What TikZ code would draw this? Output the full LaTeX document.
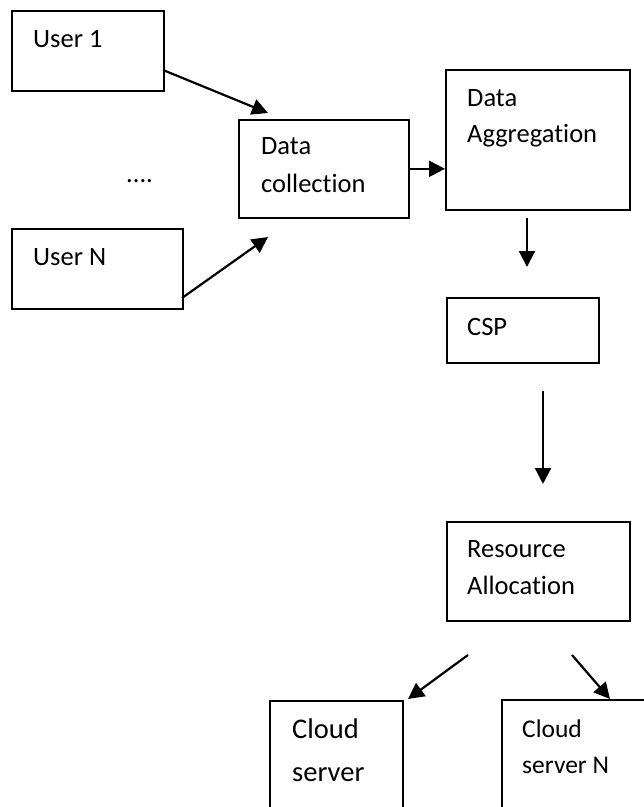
\documentclass[tikz,border=0pt]{standalone}
\usepackage{fontspec}
\setmainfont[RawFeature={-liga}]{Carlito}
\usetikzlibrary{arrows.meta}
\tikzset{
  box/.style={draw, line width=1.6pt, inner sep=0pt, anchor=north west},
  lbl/.style={inner sep=0pt, anchor=base west, font=\fontsize{26.5}{32}\selectfont},
  flow/.style={line width=2.2pt, -{Triangle[length=16pt,width=16pt]}}
}
\begin{document}
\begin{tikzpicture}[x=1pt,y=-1pt]
  \clip (0,0) rectangle (644,807);
  \fill[white] (0,0) rectangle (644,807);

  % boxes
  \node[box, minimum width=152pt, minimum height=80pt]  (u1)  at (11,10)  {};
  \node[box, minimum width=171pt, minimum height=80pt]  (un)  at (11,228) {};
  \node[box, minimum width=170pt, minimum height=98pt]  (dc)  at (238,119) {};
  \node[box, minimum width=184pt, minimum height=140pt] (da)  at (445,69) {};
  \node[box, minimum width=152pt, minimum height=65pt]  (csp) at (446,297) {};
  \node[box, minimum width=183pt, minimum height=99pt]  (ra)  at (446,521) {};
  \node[box, minimum width=133pt, minimum height=140pt] (cs)  at (269,700) {};
  \node[box, minimum width=170pt, minimum height=140pt] (csn) at (501,699) {};

  % labels
  \node[lbl] (u1-t)  at (33,47)  {User 1};
  \node[lbl] (un-t)  at (33,265) {User N};
  \node[lbl] (dots)  at (126,182) {....};
  \node[lbl] (dc-t1) at (261,154) {Data};
  \node[lbl] (dc-t2) at (261,192) {collection};
  \node[lbl] (da-t1) at (467,106) {Data};
  \node[lbl] (da-t2) at (467,142) {Aggregation};
  \node[lbl] (csp-t) at (467,335) {CSP};
  \node[lbl] (ra-t1) at (467,557) {Resource};
  \node[lbl] (ra-t2) at (467,594) {Allocation};
  \node[lbl, font=\fontsize{28.5}{34}\selectfont] (cs-t1) at (292,738) {Cloud};
  \node[lbl, font=\fontsize{28.5}{34}\selectfont] (cs-t2) at (292,781) {server};
  \node[lbl, font=\fontsize{25.5}{30}\selectfont] (csn-t1) at (522,737) {Cloud};
  \node[lbl, font=\fontsize{25.5}{30}\selectfont] (csn-t2) at (522,773) {server N};

  % free ends of connectors
  \coordinate (a1s) at (163,70);
  \coordinate (a1e) at (268,113);
  \coordinate (a2s) at (182,298);
  \coordinate (a2e) at (268,237);
  \coordinate (a4s) at (527,218);
  \coordinate (a4e) at (527,267);
  \coordinate (a5s) at (543,391);
  \coordinate (a5e) at (543,484);
  \coordinate (a6s) at (468,655);
  \coordinate (a6e) at (408,699);
  \coordinate (a7s) at (572,655);
  \coordinate (a7e) at (610,699);

  % connectors
  \draw[flow] (a1s) -- (a1e);
  \draw[flow] (a2s) -- (a2e);
  \draw[flow] (dc.east) -- (dc.east -| da.west);
  \draw[flow] (a4s) -- (a4e);
  \draw[flow] (a5s) -- (a5e);
  \draw[flow] (a6s) -- (a6e);
  \draw[flow] (a7s) -- (a7e);
\end{tikzpicture}
\end{document}
